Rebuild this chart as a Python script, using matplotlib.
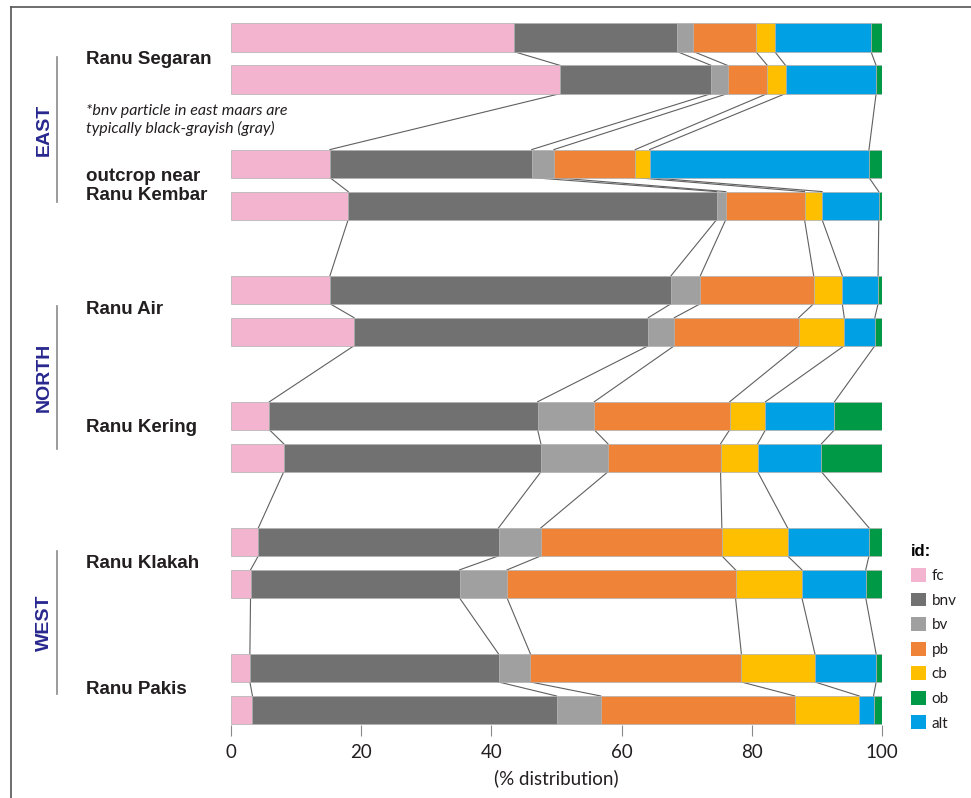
import matplotlib.pyplot as plt
import numpy as np
from matplotlib.lines import Line2D
from matplotlib.patches import Patch

# two samples per site, top to bottom
rows = ['Segaran 1', 'Segaran 2', 'Kembar 1', 'Kembar 2', 'Air 1', 'Air 2',
        'Kering 1', 'Kering 2', 'Klakah 1', 'Klakah 2', 'Pakis 1', 'Pakis 2']
ypos = [0, 1, 3, 4, 6, 7, 9, 10, 12, 13, 15, 16]

# component shares (%), stacking order left to right
fc = [43.4, 50.6, 15.2, 18.0, 15.2, 18.9, 5.9, 8.1, 4.2, 3.0, 2.9, 3.3]
bnv = [25.1, 23.2, 31.0, 56.6, 52.4, 45.2, 41.2, 39.5, 36.9, 32.1, 38.2, 46.7]
bv = [2.5, 2.5, 3.4, 1.4, 4.5, 4.0, 8.7, 10.3, 6.5, 7.3, 4.9, 6.8]
pb = [9.6, 6.1, 12.5, 12.1, 17.4, 19.1, 20.8, 17.3, 27.8, 35.1, 32.4, 29.8]
cb = [2.9, 2.8, 2.2, 2.7, 4.4, 7.0, 5.5, 5.7, 10.1, 10.2, 11.3, 9.9]
alt = [14.8, 13.9, 33.7, 8.7, 5.5, 4.7, 10.6, 9.8, 12.5, 9.8, 9.4, 2.2]
ob = [1.7, 0.9, 2.0, 0.5, 0.6, 1.1, 7.3, 9.3, 2.0, 2.5, 0.9, 1.3]

stack = [('fc', fc, '#f3b4d0'), ('bnv', bnv, '#717171'), ('bv', bv, '#a0a0a0'),
         ('pb', pb, '#ef8439'), ('cb', cb, '#fdbf00'), ('alt', alt, '#00a0e4'),
         ('ob', ob, '#009a46')]
legend_order = ['fc', 'bnv', 'bv', 'pb', 'cb', 'ob', 'alt']

site_labels = [('Ranu Segaran', 59), ('outcrop near\nRanu Kembar', 186),
               ('Ranu Air', 310), ('Ranu Kering', 428),
               ('Ranu Klakah', 563), ('Ranu Pakis', 690)]
regions = [('EAST', 57, 202), ('NORTH', 306, 449), ('WEST', 551, 694)]

W, H = 971, 798
fig = plt.figure(figsize=(W / 100, H / 100), dpi=100)
ax = fig.add_axes([231 / W, 1 - 724.5 / H, 651 / W, 704.5 / H])

bh = 0.667
left = np.zeros(len(rows))
edges = []
for name, vals, col in stack:
    vals = np.array(vals)
    ax.barh(ypos, vals, left=left, height=bh, color=col,
            edgecolor='#b0b0b0', linewidth=0.5)
    left = left + vals
    edges.append(left.copy())

# connectors between neighbouring bars at every segment boundary
for b in edges[:-1]:
    for i in range(len(rows) - 1):
        ax.plot([b[i], b[i + 1]], [ypos[i] + bh / 2, ypos[i + 1] - bh / 2],
                color='#606060', lw=0.8, zorder=0)

ax.set_xlim(0, 100)
ax.set_ylim(16.345, -0.416)
ax.set_yticks([])
for s in ax.spines.values():
    s.set_visible(False)
ax.set_xticks(np.arange(0, 101, 20))
ax.tick_params(axis='x', length=8, width=0.8, color='#8a8a8a', pad=6,
               labelsize=13.5, labelcolor='#231f20')
for t in ax.get_xticklabels():
    t.set_family('Lato')
ax.set_xlabel('(% distribution)', fontsize=13.5, family='Lato',
              color='#231f20', labelpad=6)

# site names and note
for txt, y in site_labels:
    fig.text(86 / W, 1 - y / H, txt, fontsize=13.5, fontweight='bold',
             family='Liberation Sans', color='#231f20', va='center',
             linespacing=1.15)
fig.text(86 / W, 1 - 120 / H,
         '*bnv particle in east maars are\ntypically black-grayish (gray)',
         fontsize=11.5, style='italic', family='Lato', color='#231f20',
         va='center', linespacing=1.25)

# region brackets
for txt, y0, y1 in regions:
    fig.add_artist(Line2D([57 / W, 57 / W], [1 - y0 / H, 1 - y1 / H],
                          color='#8a8a8a', lw=1.2))
    fig.text(44 / W, 1 - (y0 + y1) / 2 / H, txt, rotation=90, fontsize=14,
             fontweight='bold', family='Liberation Sans', color='#27278f',
             ha='center', va='center')

# outer frame
fig.add_artist(Line2D([11 / W, 11 / W], [0, 1 - 7 / H], color='#555555', lw=1.2))
fig.add_artist(Line2D([11 / W, 1], [1 - 7 / H, 1 - 7 / H], color='#555555', lw=1.2))

colors = {n: c for n, _, c in stack}
handles = [Patch(facecolor=colors[n], label=n) for n in legend_order]
leg = fig.legend(handles=handles, title='id:', loc='upper left',
                 bbox_to_anchor=(897 / W, 1 - 530 / H), frameon=False,
                 handlelength=1.0, handleheight=1.0, handletextpad=0.35,
                 labelspacing=0.62, alignment='left',
                 prop={'family': 'Lato', 'size': 11},
                 title_fontproperties={'family': 'Liberation Sans',
                                       'weight': 'bold', 'size': 12})
for t in leg.get_texts():
    t.set_color('#231f20')

fig.savefig('out.png', dpi=100)
